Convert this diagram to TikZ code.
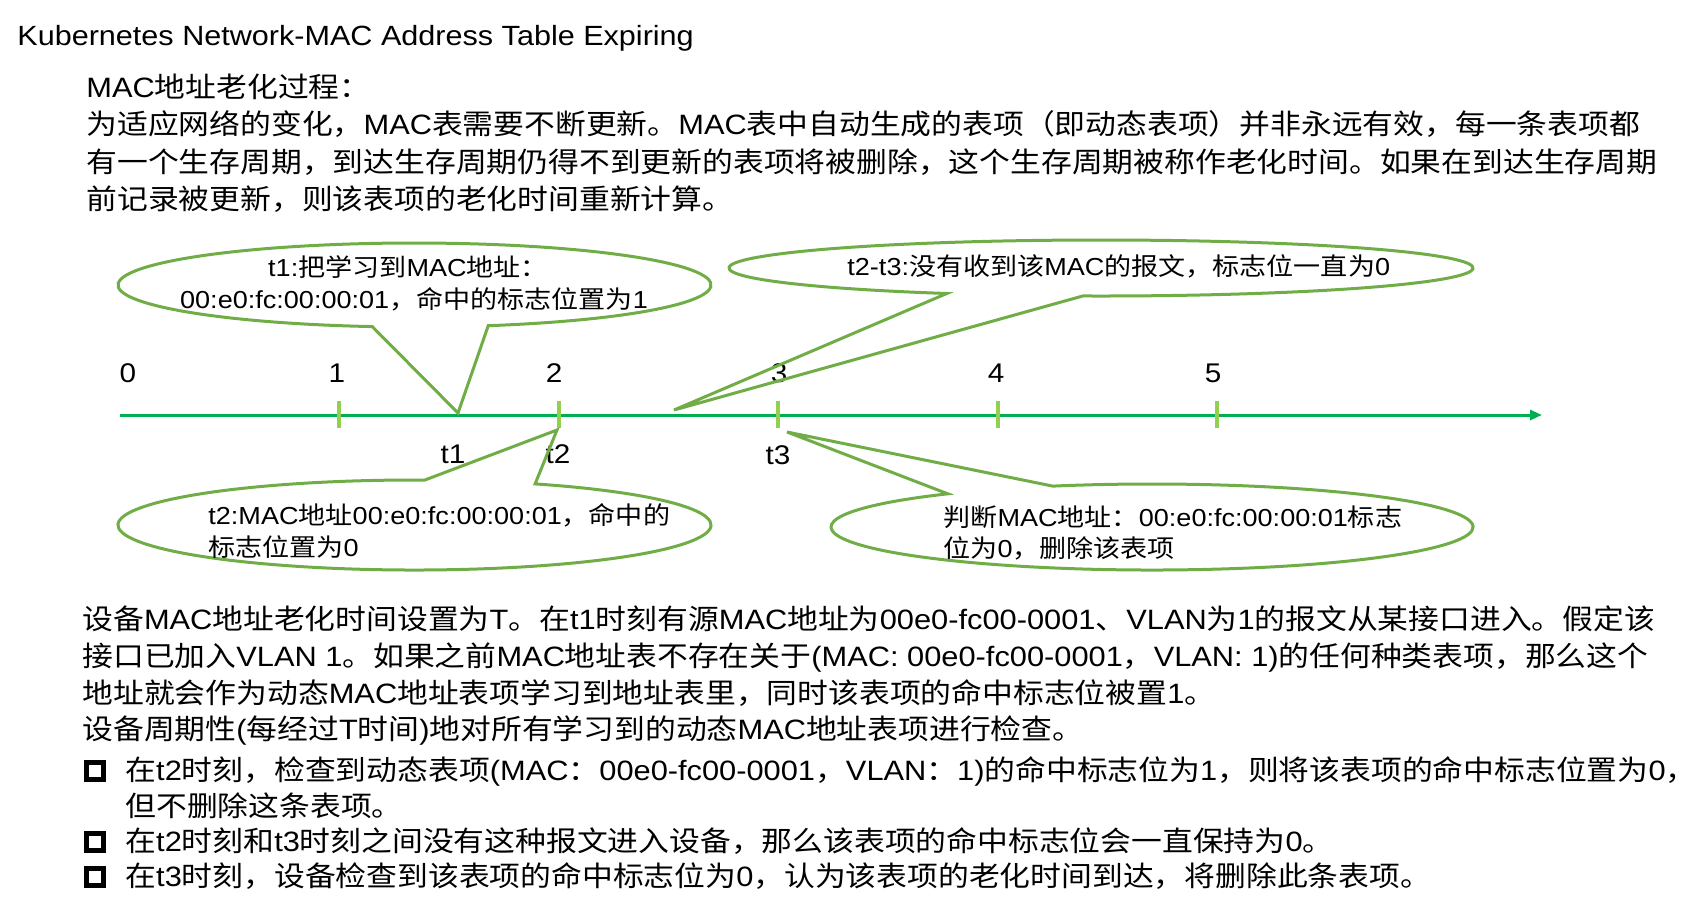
\documentclass[tikz,border=0pt]{standalone}
\usepackage{fontspec}
\setmainfont{Liberation Sans}[FakeStretch=1.1]
\newfontfamily\cjkfam{Noto Sans CJK SC}[FakeStretch=1.1]
\usetikzlibrary{arrows.meta,calc}

% Switch to the CJK family for ideographs and full-width punctuation
\newXeTeXintercharclass\CJKclass
\newcount\cjkcc
\def\cjkrange#1#2{\cjkcc=#1\relax
  \loop\XeTeXcharclass\cjkcc=\CJKclass\relax
  \ifnum\cjkcc<#2\relax\advance\cjkcc by 1\relax\repeat}
\cjkrange{"3000}{"303F}
\cjkrange{"4E00}{"9FFF}
\cjkrange{"FF00}{"FFEF}
\XeTeXinterchartoks 0 \CJKclass = {\cjkfam}
\XeTeXinterchartoks 4095 \CJKclass = {\cjkfam}
\XeTeXinterchartoks \CJKclass 0 = {\rmfamily}
\XeTeXinterchartoks \CJKclass 4095 = {\rmfamily}
\XeTeXinterchartoks 4095 0 = {\rmfamily}
\XeTeXinterchartokenstate=1

\definecolor{axisgreen}{RGB}{0,176,80}
\definecolor{tickgreen}{RGB}{146,208,80}
\definecolor{bubblegreen}{RGB}{112,173,71}

% speech bubble: centre, x radius, y radius, start angle, end angle, tip
\newcommand\bubble[6]{%
  \draw[bubbleline] ($(#1)+(#4:#2 and #3)$)
    arc[start angle=#4, end angle=#5, x radius=#2, y radius=#3]
    -- (#6) -- cycle;}

\begin{document}
\begin{tikzpicture}[x=0.5pt,y=-0.5pt,
  titletext/.style={anchor=base west, inner sep=0pt, font=\fontsize{13.9pt}{17pt}\selectfont},
  bodytext/.style={anchor=base west, inner sep=0pt, font=\fontsize{14pt}{18pt}\selectfont},
  numlabel/.style={anchor=base, inner sep=0pt, font=\fontsize{13.5pt}{16pt}\selectfont},
  bubbletext/.style={inner sep=0pt, font=\fontsize{12.3pt}{16pt}\selectfont},
  bubbleline/.style={draw=bubblegreen, line width=1.5pt, line join=miter},
  axisline/.style={draw=axisgreen, line width=1.5pt, -{Triangle[length=6pt,width=5pt]}},
  tickmark/.style={draw=tickgreen, line width=2pt},
  bulletbox/.style={draw=black, line width=2.3pt}]
\useasboundingbox (0,0) rectangle (1700,906);

% heading and introduction
\node[titletext] (title) at (17,45) {Kubernetes Network-MAC Address Table Expiring};
\node[bodytext] (p1) at (86,97) {MAC地址老化过程：};
\node[bodytext] (p2) at (86,134.5) {为适应网络的变化，MAC表需要不断更新。MAC表中自动生成的表项（即动态表项）并非永远有效，每一条表项都};
\node[bodytext] (p3) at (86,172) {有一个生存周期，到达生存周期仍得不到更新的表项将被删除，这个生存周期被称作老化时间。如果在到达生存周期};
\node[bodytext] (p4) at (86,209.5) {前记录被更新，则该表项的老化时间重新计算。};

% time axis
\coordinate (axstart) at (120,415);
\coordinate (axend) at (1542,415);
\draw[axisline] (axstart) -- (axend);
\foreach \i in {1,...,5}
  \draw[tickmark] ({119.5+219.5*\i},401) -- ({119.5+219.5*\i},428);
\node[numlabel] (n0) at (128,382) {0};
\node[numlabel] (n1) at (337,382) {1};
\node[numlabel] (n2) at (554,382) {2};
\node[numlabel] (n3) at (779,382) {3};
\node[numlabel] (n4) at (996,382) {4};
\node[numlabel] (n5) at (1213,382) {5};
\node[numlabel] (t1) at (453,463) {t1};
\node[numlabel] (t2) at (558,463) {t2};
\node[numlabel] (t3) at (778,464) {t3};

% speech bubbles
\coordinate (cA) at (414.5,285);
\coordinate (cB) at (1101,268);
\coordinate (cC) at (414.5,525);
\coordinate (cD) at (1152,527);
\coordinate (tipA) at (458,413);
\coordinate (tipB) at (674,410);
\coordinate (tipC) at (557,430);
\coordinate (tipD) at (787,432);
\bubble{cA}{296.5}{42}{98.2}{435.6}{tipA}
\bubble{cB}{372}{28}{114.5}{452.8}{tipB}
\bubble{cC}{296.5}{45}{294}{632}{tipC}
\bubble{cD}{321}{43}{252}{590.5}{tipD}

\node[bubbletext, anchor=base] (a1) at (408,276) {t1:把学习到MAC地址：};
\node[bubbletext, anchor=base] (a2) at (414,308) {00:e0:fc:00:00:01，命中的标志位置为1};
\node[bubbletext, anchor=base west] (b1) at (847,275) {t2-t3:没有收到该MAC的报文，标志位一直为0};
\node[bubbletext, anchor=base west] (c1) at (208,524) {t2:MAC地址00:e0:fc:00:00:01，命中的};
\node[bubbletext, anchor=base west] (c2) at (208,556) {标志位置为0};
\node[bubbletext, anchor=base west] (d1) at (943,526) {判断MAC地址：00:e0:fc:00:00:01标志};
\node[bubbletext, anchor=base west] (d2) at (943,557) {位为0，删除该表项};

% explanation
\node[bodytext] (q1) at (82,629) {设备MAC地址老化时间设置为T。在t1时刻有源MAC地址为00e0-fc00-0001、VLAN为1的报文从某接口进入。假定该};
\node[bodytext] (q2) at (82,666) {接口已加入VLAN 1。如果之前MAC地址表不存在关于(MAC: 00e0-fc00-0001，VLAN: 1)的任何种类表项，那么这个};
\node[bodytext] (q3) at (82,703) {地址就会作为动态MAC地址表项学习到地址表里，同时该表项的命中标志位被置1。};
\node[bodytext] (q4) at (82,739) {设备周期性(每经过T时间)地对所有学习到的动态MAC地址表项进行检查。};

\draw[bulletbox] (86.5,762.5) rectangle (103.5,779.5);
\node[bodytext] (r1) at (125,780) {在t2时刻，检查到动态表项(MAC：00e0-fc00-0001，VLAN：1)的命中标志位为1，则将该表项的命中标志位置为0，};
\node[bodytext] (r2) at (125,816) {但不删除这条表项。};
\draw[bulletbox] (86.5,833.5) rectangle (103.5,850.5);
\node[bodytext] (r3) at (125,851) {在t2时刻和t3时刻之间没有这种报文进入设备，那么该表项的命中标志位会一直保持为0。};
\draw[bulletbox] (86.5,868.5) rectangle (103.5,885.5);
\node[bodytext] (r4) at (125,886) {在t3时刻，设备检查到该表项的命中标志位为0，认为该表项的老化时间到达，将删除此条表项。};
\end{tikzpicture}
\end{document}
